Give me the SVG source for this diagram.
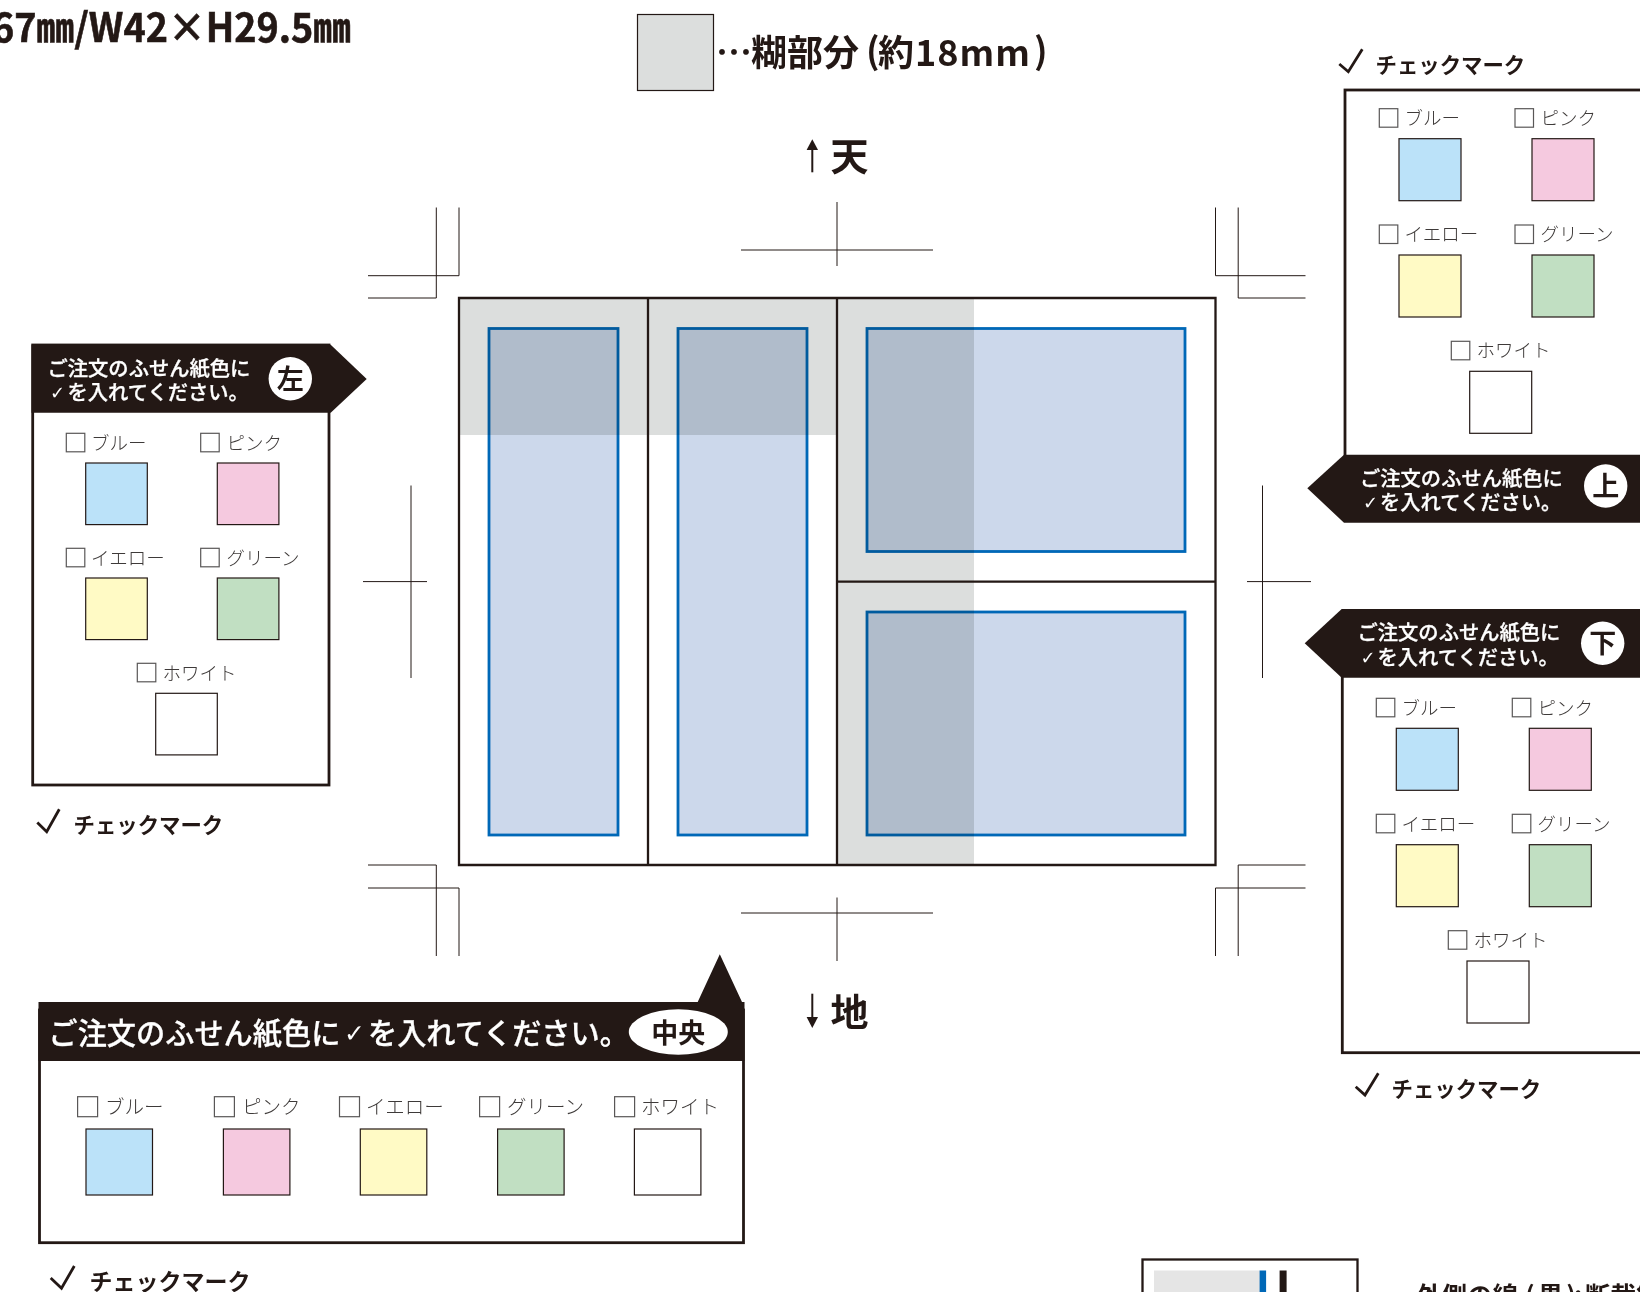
<svg xmlns="http://www.w3.org/2000/svg" width="1640" height="1292" viewBox="0 0 1640 1292">
<style>
text{font-family:"Noto Sans CJK JP","Noto Sans",sans-serif;fill:#231815}
.crop{stroke:#231815;stroke-width:1;fill:none}
.pan{fill:#fff;stroke:#231815;stroke-width:2.8}
.hd{fill:#231815}
.wt{fill:#fff;stroke:#fff;stroke-width:.3;font-size:20.3px;font-weight:500}
.wl{fill:#fff;stroke:#fff;stroke-width:.3;font-size:29.2px;font-weight:500}
.ck{fill:#fff;font-size:18px;font-family:"DejaVu Sans",sans-serif}
.cb{fill:#fff;stroke:#595757;stroke-width:1.2}
.lb{font-size:18.5px;fill:#3e3a39;font-weight:300}
.lc{font-size:19.5px;fill:#3e3a39;font-weight:300}
.sw{stroke:#231815;stroke-width:1.2}
.b{fill:#bbe2f9}.p{fill:#f5c9df}.y{fill:#fffac5}.g{fill:#c1dfc2}.w{fill:#fff}
.mk{font-size:21.4px;font-weight:700}
.mc{fill:none;stroke:#231815;stroke-width:2.8}
.gl{fill:#dcdedd}
.tr{fill:#ccd8eb;stroke:#0068b7;stroke-width:2.8;mix-blend-mode:multiply}
.cs{font-size:27px;font-weight:700;text-anchor:middle}
</style>
<rect width="1640" height="1292" fill="#fff"/>
<g id="title"><text x="-8" y="42" font-size="40" font-weight="700" stroke="#231815" stroke-width=".6" textLength="359" lengthAdjust="spacingAndGlyphs">67㎜/W42×H29.5㎜</text></g>
<g id="legend-glue">
<rect class="gl" x="637.5" y="14.5" width="76" height="76" stroke="#231815" stroke-width="1.2"/>
<text x="716" y="66" font-size="36" font-weight="700">…</text>
<text x="751" y="66" font-size="36" font-weight="700">糊部分</text>
<text x="866" y="64" font-size="36" font-weight="700">(</text>
<text x="878" y="66" font-size="36" font-weight="700">約</text>
<text x="915" y="66" font-size="36" font-weight="700" textLength="115">18mm</text>
<text x="1034" y="64" font-size="36" font-weight="700">)</text>
</g>
<g id="top-label">
<path d="M812.3 172.3V147" stroke="#231815" stroke-width="2" fill="none"/><polygon points="812.3,139.3 818,150 806.6,150" fill="#231815"/>
<text x="830.5" y="169.5" font-size="38" font-weight="700">天</text></g>
<g id="bottom-label">
<path d="M812.3 993.7V1019" stroke="#231815" stroke-width="2" fill="none"/><polygon points="812.3,1028 818,1017 806.6,1017" fill="#231815"/>
<text x="830.5" y="1025.5" font-size="38" font-weight="700">地</text></g>
<g id="sheet">
<rect class="gl" x="459" y="298" width="378" height="137"/>
<rect class="gl" x="837" y="298" width="137" height="567"/>
<rect class="tr" x="489" y="328.5" width="129" height="506.5"/>
<rect class="tr" x="678" y="328.5" width="129" height="506.5"/>
<rect class="tr" x="867" y="328.5" width="318" height="223"/>
<rect class="tr" x="867" y="612" width="318" height="223"/>
<path d="M459 298H1215.5V865H459ZM648 298V865M837 298V865M837 581.6H1215.5" fill="none" stroke="#231815" stroke-width="2.3"/>
</g>
<g id="connectors">
<path class="crop" d="M436.3 207.5V298H368M459 207.5V275.7H368"/>
<path class="crop" d="M1238.2 207.5V298H1305.5M1215.5 207.5V275.7H1305.5"/>
<path class="crop" d="M436.3 956V865H368M459 956V888H368"/>
<path class="crop" d="M1238.2 956V865H1305.5M1215.5 956V888H1305.5"/>
<path class="crop" d="M837 202V266M741 250H933"/>
<path class="crop" d="M837 897.5V961M741 913H933"/>
<path class="crop" d="M411 485.5V678M363 581.6H427"/>
<path class="crop" d="M1262.5 485.5V678M1247 581.6H1311"/>
</g>
<g id="panel-left">
<rect class="pan" x="32.7" y="345" width="296.3" height="440"/>
<path class="hd" d="M31.5 344.7H330.7L366.7 379L330.7 412.7H31.5Z"/>
<circle cx="290.3" cy="378.7" r="21.7" fill="#fff"/>
<text class="cs" x="290.3" y="388.5">左</text>
<text class="wt" x="47.5" y="375.5">ご注文のふせん紙色に</text>
<text class="ck" x="50" y="399">✓</text>
<text class="wt" x="67.5" y="400">を入れてください。</text>
<rect class="cb" x="66.3" y="433.3" width="18.5" height="18.5"/><text class="lb" x="91" y="449.5">ブルー</text>
<rect class="cb" x="200.7" y="433.3" width="18.5" height="18.5"/><text class="lb" x="226.5" y="449.5">ピンク</text>
<rect class="sw b" x="85.7" y="463" width="61.6" height="61.6"/>
<rect class="sw p" x="217.3" y="463" width="61.6" height="61.6"/>
<rect class="cb" x="66.3" y="548.3" width="18.5" height="18.5"/><text class="lb" x="91" y="564.5">イエロー</text>
<rect class="cb" x="200.7" y="548.3" width="18.5" height="18.5"/><text class="lb" x="226.5" y="564.5">グリーン</text>
<rect class="sw y" x="85.7" y="578" width="61.6" height="61.6"/>
<rect class="sw g" x="217.3" y="578" width="61.6" height="61.6"/>
<rect class="cb" x="137.3" y="663.3" width="18.5" height="18.5"/><text class="lb" x="162.5" y="679.5">ホワイト</text>
<rect class="sw w" x="155.7" y="693.3" width="61.6" height="61.6"/>
<path class="mc" d="M37.3 822.5L46.7 831.7L59.3 809.3"/>
<text class="mk" x="73.5" y="833">チェックマーク</text>
</g>
<g id="panel-top">
<rect class="pan" x="1345" y="90" width="320" height="400"/>
<path class="hd" d="M1344 454.7H1640V522.7H1344L1307.3 488.3L1344 454.7Z"/>
<circle cx="1605.7" cy="486" r="21.7" fill="#fff"/>
<text class="cs" x="1605.7" y="495.8">上</text>
<text class="wt" x="1360" y="485.7">ご注文のふせん紙色に</text>
<text class="ck" x="1363" y="509">✓</text>
<text class="wt" x="1380" y="510">を入れてください。</text>
<rect class="cb" x="1379.3" y="108.7" width="18.5" height="18.5"/><text class="lb" x="1404.5" y="124.8">ブルー</text>
<rect class="cb" x="1515" y="108.7" width="18.5" height="18.5"/><text class="lb" x="1540.5" y="124.8">ピンク</text>
<rect class="sw b" x="1399" y="138.7" width="62" height="62"/>
<rect class="sw p" x="1532" y="138.7" width="62" height="62"/>
<rect class="cb" x="1379.3" y="225" width="18.5" height="18.5"/><text class="lb" x="1404.5" y="241">イエロー</text>
<rect class="cb" x="1515" y="225" width="18.5" height="18.5"/><text class="lb" x="1540.5" y="241">グリーン</text>
<rect class="sw y" x="1399" y="255" width="62" height="62"/>
<rect class="sw g" x="1532" y="255" width="62" height="62"/>
<rect class="cb" x="1451.3" y="341.3" width="18.5" height="18.5"/><text class="lb" x="1476.5" y="357.3">ホワイト</text>
<rect class="sw w" x="1469.7" y="371.3" width="62" height="62"/>
<path class="mc" d="M1339.3 64L1348.3 71.7L1362.3 49.3"/>
<text class="mk" x="1375.5" y="73">チェックマーク</text>
</g>
<g id="panel-bottom-right">
<rect class="pan" x="1342.3" y="640" width="320" height="412.7"/>
<path class="hd" d="M1341.7 609H1640V677.7H1341.7L1304.7 643.3L1341.7 609Z"/>
<circle cx="1602.7" cy="643.3" r="21.7" fill="#fff"/>
<text class="cs" x="1602.7" y="653">下</text>
<text class="wt" x="1357.5" y="640">ご注文のふせん紙色に</text>
<text class="ck" x="1360.5" y="663.5">✓</text>
<text class="wt" x="1377.5" y="664.5">を入れてください。</text>
<rect class="cb" x="1376.3" y="698.3" width="18.5" height="18.5"/><text class="lb" x="1401.5" y="714.5">ブルー</text>
<rect class="cb" x="1512.3" y="698.3" width="18.5" height="18.5"/><text class="lb" x="1537.5" y="714.5">ピンク</text>
<rect class="sw b" x="1396.3" y="728.3" width="62" height="62"/>
<rect class="sw p" x="1529.3" y="728.3" width="62" height="62"/>
<rect class="cb" x="1376.3" y="814.3" width="18.5" height="18.5"/><text class="lb" x="1401.5" y="830.5">イエロー</text>
<rect class="cb" x="1512.3" y="814.3" width="18.5" height="18.5"/><text class="lb" x="1537.5" y="830.5">グリーン</text>
<rect class="sw y" x="1396.3" y="844.7" width="62" height="62"/>
<rect class="sw g" x="1529.3" y="844.7" width="62" height="62"/>
<rect class="cb" x="1448.3" y="930.7" width="18.5" height="18.5"/><text class="lb" x="1473.5" y="946.8">ホワイト</text>
<rect class="sw w" x="1467" y="961" width="62" height="62"/>
<path class="mc" d="M1355.7 1086.7L1365 1095L1378.3 1073.3"/>
<text class="mk" x="1391.5" y="1097">チェックマーク</text>
</g>
<g id="panel-center">
<rect class="pan" x="39.5" y="1010" width="704" height="232.7"/>
<path class="hd" d="M38.5 1002H697.7L719.8 954.3L742 1002H744.5V1061H38.5Z"/>
<ellipse cx="678.3" cy="1032" rx="49.5" ry="22.7" fill="#fff"/>
<text class="cs" x="678.3" y="1043">中央</text>
<text class="wl" x="48.5" y="1043.5">ご注文のふせん紙色に</text>
<text class="ck" style="font-size:25px" x="344" y="1042">✓</text>
<text class="wl" x="368" y="1043.5">を入れてください。</text>
<rect class="cb" x="77.6" y="1096.7" width="20" height="20"/><text class="lc" x="105" y="1114">ブルー</text>
<rect class="cb" x="214.4" y="1096.7" width="20" height="20"/><text class="lc" x="242" y="1114">ピンク</text>
<rect class="cb" x="339.5" y="1096.7" width="20" height="20"/><text class="lc" x="366" y="1114">イエロー</text>
<rect class="cb" x="479.6" y="1096.7" width="20" height="20"/><text class="lc" x="507" y="1114">グリーン</text>
<rect class="cb" x="614.6" y="1096.7" width="20" height="20"/><text class="lc" x="641" y="1114">ホワイト</text>
<rect class="sw b" x="86" y="1129" width="66.5" height="66"/>
<rect class="sw p" x="223.4" y="1129" width="66.5" height="66"/>
<rect class="sw y" x="360.3" y="1129" width="66.5" height="66"/>
<rect class="sw g" x="497.6" y="1129" width="66.5" height="66"/>
<rect class="sw w" x="634.4" y="1129" width="66.5" height="66"/>
<path class="mc" d="M50.7 1278L61.5 1288.3L74.3 1266"/>
<text class="mk" x="89.5" y="1290" style="font-size:23px">チェックマーク</text>
</g>
<g id="line-legend">
<rect x="1142.5" y="1259.5" width="215" height="60" fill="#fff" stroke="#231815" stroke-width="2.3"/>
<rect x="1154" y="1270.5" width="106" height="30" fill="#e5e5e5"/>
<rect x="1259.6" y="1270.5" width="6.5" height="30" fill="#0068b7"/>
<rect x="1279.6" y="1270.5" width="7" height="30" fill="#231815"/>
<text x="1416" y="1305" font-size="25.5" font-weight="700">外側の線</text>
<text x="1525" y="1305" font-size="25.5" font-weight="700" letter-spacing="3">(黒)</text>
<text x="1574" y="1305" font-size="25.5" font-weight="700">:</text>
<text x="1585" y="1305" font-size="25.5" font-weight="700">断裁線</text>
</g>
</svg>
